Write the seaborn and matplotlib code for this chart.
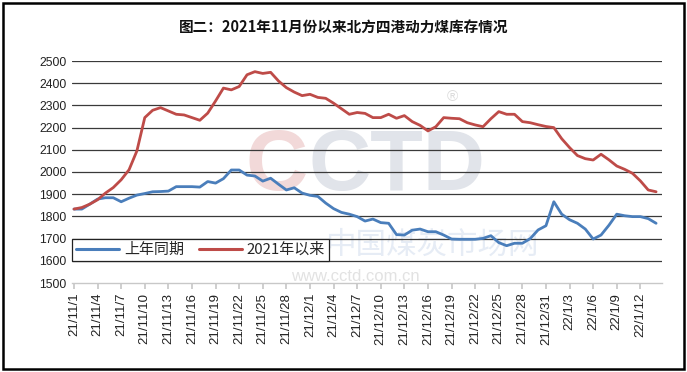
import matplotlib
matplotlib.use("Agg")
import matplotlib.pyplot as plt
from matplotlib.patches import Rectangle
import pandas as pd
import seaborn as sns

TITLE = "图二：2021年11月份以来北方四港动力煤库存情况"
SERIES_NAMES = ["上年同期", "2021年以来"]
COLORS = ["#4A7EBB", "#BE4B48"]

# daily dates from 21/11/1 to 22/1/14
DATES = pd.date_range("2021-11-01", "2022-01-14", freq="D")
DATE_LABELS = [f"{d.year % 100}/{d.month}/{d.day}" for d in DATES]

LAST_YEAR = [
    1833, 1833, 1855, 1878, 1884, 1884, 1866, 1882, 1896, 1903,
    1911, 1912, 1914, 1934, 1934, 1934, 1932, 1957, 1950, 1970,
    2009, 2009, 1986, 1982, 1959, 1972, 1945, 1919, 1929, 1905,
    1895, 1890, 1860, 1835, 1818, 1810, 1799, 1779, 1788, 1772,
    1769, 1718, 1716, 1738, 1743, 1731, 1731, 1716, 1698, 1697,
    1697, 1697, 1701, 1713, 1682, 1668, 1679, 1679, 1700, 1739,
    1758, 1866, 1810, 1785, 1769, 1743, 1698, 1716, 1760, 1810,
    1803, 1799, 1799, 1790, 1769,
]
SINCE_2021 = [
    1833, 1840, 1855, 1875, 1905, 1930, 1965, 2010, 2095, 2245,
    2278, 2290, 2275, 2260, 2257, 2245, 2233, 2265, 2320, 2378,
    2370, 2385, 2438, 2452, 2444, 2449, 2410, 2380, 2360, 2344,
    2350, 2336, 2332, 2310, 2285, 2260, 2268, 2264, 2245, 2245,
    2260, 2242, 2254, 2227, 2210, 2185, 2204, 2245, 2242, 2240,
    2222, 2212, 2204, 2240, 2272, 2260, 2260, 2227, 2222, 2213,
    2205, 2200, 2150, 2110, 2074, 2060, 2054, 2080, 2055, 2027,
    2012, 1994, 1960, 1919, 1911,
]
Y_TICKS = list(range(1500, 2501, 100))

sns.set_theme(style="white")
plt.rcParams["font.family"] = ["Liberation Sans", "Noto Sans CJK SC", "DejaVu Sans"]

n = len(DATES)
df = pd.DataFrame({
    "idx": list(range(n)) * 2,
    "value": LAST_YEAR + SINCE_2021,
    "series": [SERIES_NAMES[0]] * n + [SERIES_NAMES[1]] * n,
})

fig = plt.figure(figsize=(6.87, 3.72), dpi=100)
ax = fig.add_axes([72 / 687, 1 - 283 / 372, 590 / 687, 222 / 372])

# faint watermark like the source image
ax.text(0.40, 0.52, "C", transform=ax.transAxes, ha="right", va="center",
        fontsize=62, fontweight="bold", color="#f2d9d9", zorder=0)
ax.text(0.40, 0.52, "CTD", transform=ax.transAxes, ha="left", va="center",
        fontsize=62, fontweight="bold", color="#e1e4ea", zorder=0)
ax.text(0.645, 0.84, "®", transform=ax.transAxes, ha="center", va="center",
        fontsize=11, color="#dcdcdc", zorder=0)
ax.text(0.61, 0.17, "中国煤炭市场网", transform=ax.transAxes, ha="center", va="center",
        fontsize=22, color="#e6ecf5", family=["Noto Sans CJK SC"], zorder=0)
ax.text(0.48, 0.03, "www.cctd.com.cn", transform=ax.transAxes, ha="center", va="center",
        fontsize=12, color="#e2e2e2", zorder=0)

for y in Y_TICKS[1:]:
    ax.axhline(y, color="#3a3a3a", lw=0.9, zorder=1)

sns.lineplot(data=df, x="idx", y="value", hue="series", palette=COLORS,
             linewidth=2.0, ax=ax, legend=False, zorder=3)

ax.set_xlim(-0.25, 74.75)
ax.set_ylim(1500, 2500)
ax.set_yticks(Y_TICKS)
ax.set_yticklabels([str(v) for v in Y_TICKS], fontsize=8.8, color="#222222")
ticks = list(range(0, n, 3))
ax.set_xticks(ticks)
ax.set_xticklabels([DATE_LABELS[i] for i in ticks], rotation=90, fontsize=9.5,
                   color="#222222")
ax.set_xlabel("")
ax.set_ylabel("")
for s in ["left", "right", "top"]:
    ax.spines[s].set_visible(False)
ax.spines["bottom"].set_color("#c8c8c8")
ax.spines["bottom"].set_linewidth(1.0)
ax.tick_params(axis="x", which="both", bottom=True, length=4, color="#c8c8c8", pad=3)
ax.tick_params(axis="y", length=0, pad=4)

handles = [plt.Line2D([], [], color=c, lw=2.2) for c in COLORS]
leg = ax.legend(handles, SERIES_NAMES, ncol=2, loc="lower left",
                bbox_to_anchor=(0.0, 0.1), frameon=True, fancybox=False,
                framealpha=1, edgecolor="#222222",
                prop={"family": ["Noto Sans CJK SC"], "size": 10.8},
                handlelength=2.9, handletextpad=0.3, columnspacing=1.0,
                borderpad=0.25, borderaxespad=0)
leg.get_frame().set_linewidth(0.9)
leg.set_zorder(5)

fig.text(0.5, 1 - 27 / 372, TITLE, ha="center", va="center", fontsize=10.5,
         fontweight="bold", family=["Noto Sans CJK SC"], color="#111111")

fig.patches.append(Rectangle((3 / 687, 3 / 372), 681 / 687, 366 / 372,
                             transform=fig.transFigure, fill=False,
                             edgecolor="black", linewidth=1.8))

fig.savefig("out.png", dpi=100)
